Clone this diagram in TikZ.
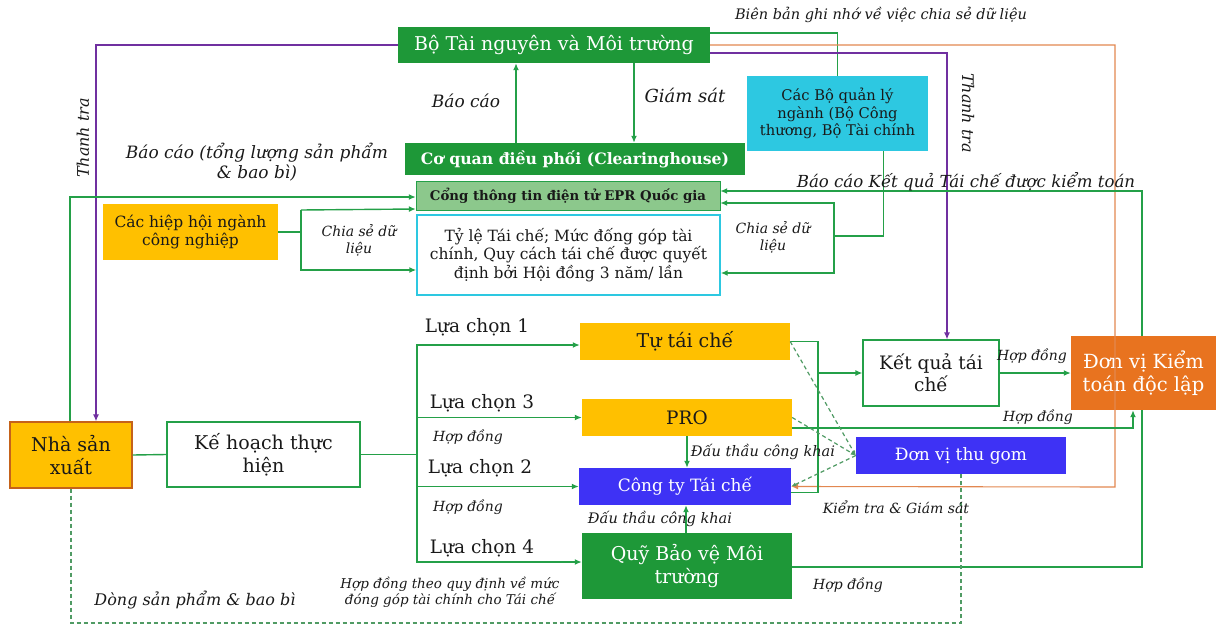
\documentclass[tikz,border=0pt]{standalone}
\usepackage{fontspec}
\setmainfont{DejaVu Serif}
\usepackage{tikz}
\usetikzlibrary{positioning,calc,arrows.meta}
\definecolor{boxgreen}{RGB}{30,152,56}
\definecolor{portalgreen}{RGB}{140,200,140}
\definecolor{boxcyan}{RGB}{45,200,225}
\definecolor{boxyellow}{RGB}{255,192,0}
\definecolor{boxblue}{RGB}{62,50,245}
\definecolor{boxorange}{RGB}{232,115,31}
\definecolor{linegreen}{RGB}{36,160,72}
\definecolor{linepurple}{RGB}{112,48,160}
\definecolor{lineorange}{RGB}{226,135,80}
\definecolor{dashgreen}{RGB}{80,155,100}
\definecolor{txt}{RGB}{25,25,25}
\newcommand{\fs}[1]{\fontsize{#1}{\dimexpr#1pt*6/5\relax}\selectfont}

\begin{document}
\begin{tikzpicture}[x=1pt,y=-1pt,
  every node/.style={text=txt},
  gbox/.style={fill=boxgreen,text=white,inner sep=0pt,align=center},
  ybox/.style={fill=boxyellow,inner sep=0pt,align=center},
  bbox/.style={fill=boxblue,text=white,inner sep=0pt,align=center},
  wbox/.style={draw=linegreen,fill=white,line width=1.2pt,inner sep=0pt,align=center},
  lbl/.style={font=\itshape\fs{14},align=center,inner sep=1pt},
  opt/.style={font=\fs{18.5},inner sep=1pt},
  gline/.style={draw=linegreen,line width=1.4pt},
  garrow/.style={gline,-{Latex[length=7pt,width=6pt]}},
  pline/.style={draw=linepurple,line width=1.2pt,-{Latex[length=7pt,width=6pt]}},
  oline/.style={draw=lineorange,line width=1.3pt,-{Latex[length=7pt,width=6pt]}},
  dline/.style={draw=dashgreen,line width=1.2pt,dash pattern=on 4pt off 3pt}]
\useasboundingbox (0,0) rectangle (1216,626);

\node[gbox,minimum width=312,minimum height=36,font=\fs{19}] (btn) at (554,45) {Bộ Tài nguyên và Môi trường};
\node[gbox,minimum width=340,minimum height=32,font=\bfseries\fs{15.7}] (coquan) at (575,159) {Cơ quan điều phối (Clearinghouse)};
\node[draw=linegreen,fill=portalgreen,inner sep=0pt,minimum width=304,minimum height=29,font=\bfseries\fs{13.3}] (cong) at (568,195.5) {Cổng thông tin điện tử EPR Quốc gia};
\node[draw=boxcyan,line width=1.4pt,fill=white,inner sep=0pt,align=center,minimum width=303,minimum height=80,font=\fs{15.5}] (tyle) at (568.5,255) {Tỷ lệ Tái chế; Mức đống góp tài\\chính, Quy cách tái chế được quyết\\định bởi Hội đồng 3 năm/ lần};
\node[fill=boxcyan,inner sep=0pt,align=center,minimum width=181,minimum height=75,font=\fs{14.7}] (cacbo) at (837.5,113.5) {Các Bộ quản lý\\ngành (Bộ Công\\thương, Bộ Tài chính};
\node[ybox,minimum width=175,minimum height=56,font=\fs{15.5}] (hiephoi) at (190.5,232) {Các hiệp hội ngành\\công nghiệp};
\node[ybox,draw=boxorange!85!black,line width=1.3pt,minimum width=122,minimum height=66,font=\fs{19}] (nsx) at (71,455) {Nhà sản\\xuất};
\node[wbox,minimum width=193,minimum height=65,font=\fs{19}] (kehoach) at (263.5,454.5) {Kế hoạch thực\\hiện};
\node[ybox,minimum width=210,minimum height=37,font=\fs{19}] (tutaiche) at (685,341.5) {Tự tái chế};
\node[ybox,minimum width=210,minimum height=37,font=\fs{18.5}] (pro) at (687,417.5) {PRO};
\node[bbox,minimum width=212,minimum height=37,font=\fs{17}] (congty) at (685,486.5) {Công ty Tái chế};
\node[gbox,minimum width=210,minimum height=66,font=\fs{19}] (quy) at (687,566) {Quỹ Bảo vệ Môi\\trường};
\node[wbox,minimum width=136,minimum height=66,font=\fs{18.5}] (ketqua) at (931,373) {Kết quả tái\\chế};
\node[fill=boxorange,text=white,inner sep=0pt,align=center,minimum width=145,minimum height=74,font=\fs{19.5}] (kiemtoan) at (1143.5,373) {Đơn vị Kiểm\\toán độc lập};
\node[bbox,minimum width=210,minimum height=37,font=\fs{17}] (thugom) at (961,455.5) {Đơn vị thu gom};

\coordinate (hl) at (301,232);
\coordinate (hr) at (834,236);
\coordinate (br) at (417,454.5);
\coordinate (rb) at (818,373);
\coordinate (oc) at (1115,487);
\coordinate (bot) at (961,623);

\draw[gline,line width=1.1pt] ([yshift=12pt]btn.east) -| (cacbo.north);
\draw[oline,line width=1.1pt] (btn.east) -| (oc) -- (congty.east);
\draw[pline] (btn.west) -| ([xshift=25pt]nsx.north);
\draw[pline] ([yshift=-8pt]btn.east) -| ([xshift=16pt]ketqua.north);
\draw[garrow] ([xshift=-59pt]coquan.north) -- ([xshift=-38pt]btn.south);
\draw[garrow] ([xshift=80pt]btn.south) -- ([xshift=59pt]coquan.north);
\draw[garrow] ([xshift=-1pt]nsx.north) |- ([yshift=-1.5pt]cong.west);
\draw[gline] (hiephoi.east) -- (hl);
\draw[garrow] ([yshift=22pt]hl) -- ([yshift=-13.5pt]cong.west);
\draw[garrow] (hl) |- ([yshift=-15pt]tyle.west);
\draw[gline] (hl) -- ([yshift=22pt]hl);
\draw[gline] ([xshift=46pt]cacbo.south) |- (hr);
\draw[garrow] (hr) |- ([yshift=-7.5pt]cong.east);
\draw[garrow] (hr) |- ([yshift=-18pt]tyle.east);
\draw[garrow] ([xshift=-1.5pt]kiemtoan.north) |- ([yshift=4.5pt]cong.east);
\draw[gline] ([yshift=-1pt]quy.east) -| ([xshift=-1.5pt]kiemtoan.south);
\draw[gline] (nsx.east) -- (kehoach.west);
\draw[gline] (kehoach.east) -- (br);
\draw[garrow] (br) |- ([yshift=-3.5pt]tutaiche.west);
\draw[garrow] (br) |- (pro.west);
\draw[garrow] (br) |- (congty.west);
\draw[garrow] (br) |- ([yshift=4pt]quy.west);
\draw[garrow] (pro.south) -- (pro.south |- congty.north);
\draw[garrow] ([xshift=-1pt]quy.north) -- ([xshift=-1pt]quy.north |- congty.south);
\draw[gline] (tutaiche.east) -| (rb) |- ([yshift=-6pt]congty.east);
\draw[garrow] (rb) -- (ketqua.west);
\draw[garrow] (ketqua.east) -- (kiemtoan.west);
\draw[garrow] ([yshift=-10.5pt]pro.east) -| ([xshift=-10.5pt]kiemtoan.south);
\draw[dline,-{Latex[length=5pt,width=4pt]}] (tutaiche.east) -- (thugom.west);
\draw[dline,-{Latex[length=5pt,width=4pt]}] (pro.east) -- (thugom.west);
\draw[dline,-{Latex[length=5pt,width=4pt]}] (thugom.west) -- (congty.east);
\draw[dline] (nsx.south) |- (bot) -- (thugom.south);

\node[lbl,font=\itshape\fs{14.5}] (l-bienban) at (881,15) {Biên bản ghi nhớ về việc chia sẻ dữ liệu};
\node[lbl,font=\itshape\fs{16},rotate=90] (l-thanhtra1) at (83,138) {Thanh tra};
\node[lbl,font=\itshape\fs{16},rotate=-90] (l-thanhtra2) at (968,113) {Thanh tra};
\node[lbl,font=\itshape\fs{17}] (l-baocao) at (466,101) {Báo cáo};
\node[lbl,font=\itshape\fs{18}] (l-giamsat) at (685,95) {Giám sát};
\node[lbl,font=\itshape\fs{17}] (l-tongluong) at (257,162) {Báo cáo (tổng lượng sản phẩm\\\& bao bì)};
\node[lbl] (l-chiase1) at (359,240) {Chia sẻ dữ\\liệu};
\node[lbl] (l-chiase2) at (773,237) {Chia sẻ dữ\\liệu};
\node[lbl,font=\itshape\fs{16.6}] (l-kiemtoan) at (966,182) {Báo cáo Kết quả Tái chế được kiểm toán};
\node[opt] (l-lc1) at (477,327) {Lựa chọn 1};
\node[opt] (l-lc3) at (482,403) {Lựa chọn 3};
\node[opt] (l-lc2) at (480,468) {Lựa chọn 2};
\node[opt] (l-lc4) at (482,548) {Lựa chọn 4};
\node[lbl] (l-hd1) at (468,437) {Hợp đồng};
\node[lbl] (l-hd2) at (468,507) {Hợp đồng};
\node[lbl,font=\itshape\fs{13.5}] (l-quydinh) at (450,592) {Hợp đồng theo quy định về mức\\đóng góp tài chính cho Tái chế};
\node[lbl,font=\itshape\fs{16}] (l-dong) at (195,600) {Dòng sản phẩm \& bao bì};
\node[lbl,font=\itshape\fs{14.5}] (l-dauthau1) at (763,452) {Đấu thầu công khai};
\node[lbl,font=\itshape\fs{14.5}] (l-dauthau2) at (660,519) {Đấu thầu công khai};
\node[lbl] (l-hd3) at (1032,356) {Hợp đồng};
\node[lbl] (l-hd4) at (1038,417) {Hợp đồng};
\node[lbl] (l-kiemtra) at (896,507) {Kiểm tra \& Giám sát};
\node[lbl] (l-hd5) at (848,585) {Hợp đồng};
\end{tikzpicture}
\end{document}
